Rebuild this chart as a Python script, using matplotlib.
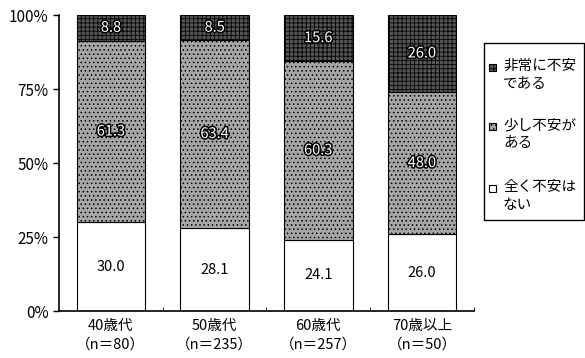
import matplotlib
matplotlib.use('Agg')
import matplotlib.pyplot as plt
import matplotlib.patheffects as pe
from matplotlib.patches import Rectangle
import numpy as np

plt.rcParams['font.family'] = ['Noto Sans CJK JP', 'DejaVu Sans']
plt.rcParams['hatch.color'] = '#7a7a7a'
plt.rcParams['hatch.linewidth'] = 0.6

# data
groups = ['40歳代\n（n＝80）', '50歳代\n（n＝235）', '60歳代\n（n＝257）', '70歳以上\n（n＝50）']
none_anx = [30.0, 28.1, 24.1, 26.0]      # 全く不安はない
some_anx = [61.3, 63.4, 60.3, 48.0]      # 少し不安がある
very_anx = [8.8, 8.5, 15.6, 26.0]        # 非常に不安である
series_labels = ['非常に不安\nである', '少し不安が\nある', '全く不安は\nない']
yticks = [0, 25, 50, 75, 100]

col_very = '#555555'
col_some = '#a6a6a6'
col_none = 'white'
hatches = ['++++', '....', '']

W, H = 585, 358
fig = plt.figure(figsize=(W / 100, H / 100), dpi=100)
ax = fig.add_axes([0.101, 0.131, 0.709, 0.827])

x = np.arange(len(groups))
w = 0.66
ax.bar(x, none_anx, w, color=col_none, edgecolor='black', linewidth=0.8)
ax.bar(x, some_anx, w, bottom=none_anx, color=col_some, edgecolor='black',
       linewidth=0.8, hatch=hatches[1])
bottom3 = np.array(none_anx) + np.array(some_anx)
ax.bar(x, very_anx, w, bottom=bottom3, color=col_very, edgecolor='black',
       linewidth=0.8, hatch=hatches[0])

outline = [pe.withStroke(linewidth=2.2, foreground='black')]
for i in range(len(groups)):
    ax.text(x[i], none_anx[i] / 2, f'{none_anx[i]:.1f}', ha='center', va='center',
            fontsize=10.5, color='black')
    ax.text(x[i], none_anx[i] + some_anx[i] / 2, f'{some_anx[i]:.1f}', ha='center',
            va='center', fontsize=10.5, color='white', path_effects=outline)
    ax.text(x[i], bottom3[i] + very_anx[i] / 2, f'{very_anx[i]:.1f}', ha='center',
            va='center', fontsize=10.5, color='white', path_effects=outline)

ax.set_xlim(-0.5, 3.5)
ax.set_ylim(0, 100)
ax.set_yticks(yticks)
ax.set_yticklabels([f'{t}%' for t in yticks], fontsize=11)
ax.set_xticks(x)
ax.set_xticklabels(groups, fontsize=10.5, linespacing=1.35)
ax.tick_params(axis='x', length=0, pad=6)
ax.set_xticks([0.5, 1.5, 2.5, 3.5], minor=True)
ax.tick_params(axis='x', which='minor', direction='in', length=3)
ax.tick_params(axis='y', direction='out', length=4, width=1)
for s in ['top', 'right']:
    ax.spines[s].set_visible(False)
ax.spines['left'].set_linewidth(1.2)
ax.spines['bottom'].set_linewidth(1.2)

# legend box drawn by hand so the marker sits by the first text line
fig.patches.append(Rectangle((484 / W, 1 - 220 / H), 100 / W, 177 / H,
                             transform=fig.transFigure, facecolor='white',
                             edgecolor='black', linewidth=1.0))
entry_y = [67, 126, 188]
colors = [col_very, col_some, col_none]
for lab, ypx, c, h in zip(series_labels, entry_y, colors, hatches):
    fig.patches.append(Rectangle((489 / W, 1 - (ypx + 4) / H), 7 / W, 7 / H,
                                 transform=fig.transFigure, facecolor=c,
                                 edgecolor='black', linewidth=0.8, hatch=h))
    fig.text(503 / W, 1 - (ypx - 8) / H, lab, fontsize=10.5, va='top', ha='left',
             linespacing=1.35)

fig.savefig('out.png', dpi=100)
